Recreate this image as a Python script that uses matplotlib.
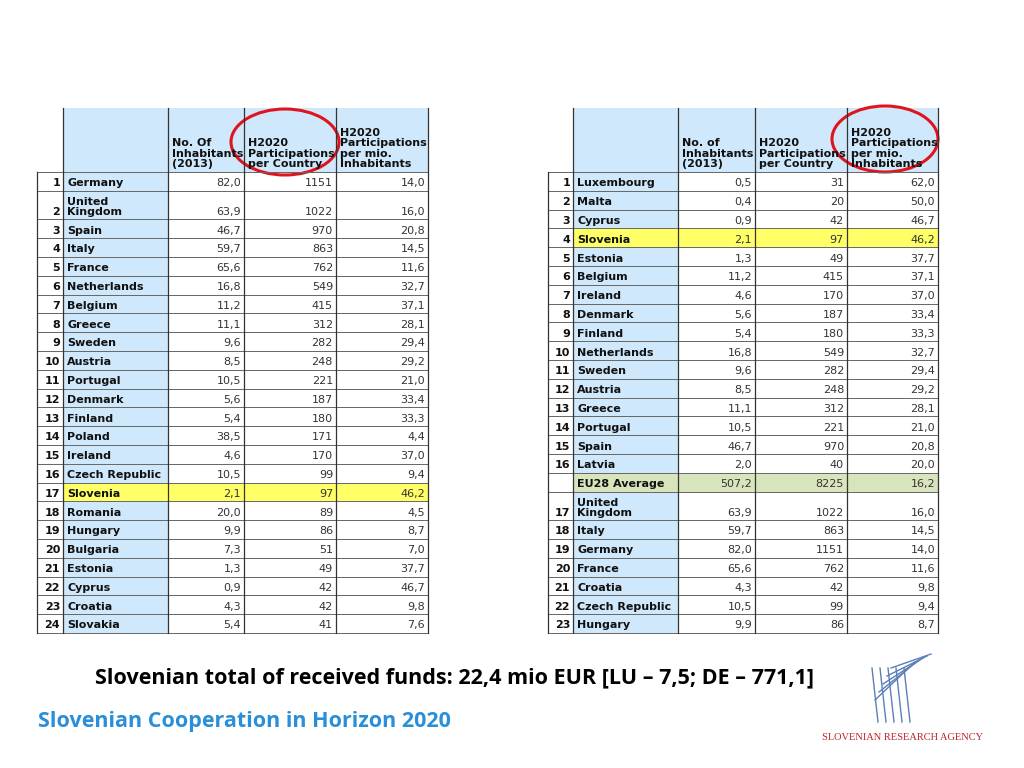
import matplotlib
matplotlib.use("Agg")
import matplotlib.pyplot as plt
from matplotlib.patches import Rectangle, Ellipse

# ---- data ----
left_ranks = [str(i) for i in range(1, 25)]
left_countries = ["Germany", "United\nKingdom", "Spain", "Italy", "France", "Netherlands",
                  "Belgium", "Greece", "Sweden", "Austria", "Portugal", "Denmark", "Finland",
                  "Poland", "Ireland", "Czech Republic", "Slovenia", "Romania", "Hungary",
                  "Bulgaria", "Estonia", "Cyprus", "Croatia", "Slovakia"]
left_inhabitants = ["82,0", "63,9", "46,7", "59,7", "65,6", "16,8", "11,2", "11,1", "9,6", "8,5",
                    "10,5", "5,6", "5,4", "38,5", "4,6", "10,5", "2,1", "20,0", "9,9", "7,3",
                    "1,3", "0,9", "4,3", "5,4"]
left_participations = ["1151", "1022", "970", "863", "762", "549", "415", "312", "282", "248",
                       "221", "187", "180", "171", "170", "99", "97", "89", "86", "51",
                       "49", "42", "42", "41"]
left_per_mio = ["14,0", "16,0", "20,8", "14,5", "11,6", "32,7", "37,1", "28,1", "29,4", "29,2",
                "21,0", "33,4", "33,3", "4,4", "37,0", "9,4", "46,2", "4,5", "8,7", "7,0",
                "37,7", "46,7", "9,8", "7,6"]

right_ranks = [str(i) for i in range(1, 17)] + [""] + [str(i) for i in range(17, 24)]
right_countries = ["Luxembourg", "Malta", "Cyprus", "Slovenia", "Estonia", "Belgium", "Ireland",
                   "Denmark", "Finland", "Netherlands", "Sweden", "Austria", "Greece",
                   "Portugal", "Spain", "Latvia", "EU28 Average", "United\nKingdom", "Italy",
                   "Germany", "France", "Croatia", "Czech Republic", "Hungary"]
right_inhabitants = ["0,5", "0,4", "0,9", "2,1", "1,3", "11,2", "4,6", "5,6", "5,4", "16,8",
                     "9,6", "8,5", "11,1", "10,5", "46,7", "2,0", "507,2", "63,9", "59,7",
                     "82,0", "65,6", "4,3", "10,5", "9,9"]
right_participations = ["31", "20", "42", "97", "49", "415", "170", "187", "180", "549", "282",
                        "248", "312", "221", "970", "40", "8225", "1022", "863", "1151", "762",
                        "42", "99", "86"]
right_per_mio = ["62,0", "50,0", "46,7", "46,2", "37,7", "37,1", "37,0", "33,4", "33,3", "32,7",
                 "29,4", "29,2", "28,1", "21,0", "20,8", "20,0", "16,2", "16,0", "14,5", "14,0",
                 "11,6", "9,8", "9,4", "8,7"]

left_headers = ["No. Of\nInhabitants\n(2013)", "H2020\nParticipations\nper Country",
                "H2020\nParticipations\nper mio.\nInhabitants"]
right_headers = ["No. of\nInhabitants\n(2013)", "H2020\nParticipations\nper Country",
                 "H2020\nParticipations\nper mio.\nInhabitants"]

BLUE = "#cfe8fb"
YELLOW = "#ffff66"
GREEN = "#d8e4bc"
FONT = "DejaVu Sans"

fig = plt.figure(figsize=(10.24, 7.68), dpi=100)
ax = fig.add_axes([0, 0, 1, 1])
ax.set_xlim(0, 1024)
ax.set_ylim(768, 0)
ax.axis("off")


def draw_table(x_edges, ranks, countries, inh, part, per, headers, highlight):
    top, head_bot = 108, 172
    # header
    ax.add_patch(Rectangle((x_edges[1], top), x_edges[5] - x_edges[1], head_bot - top,
                           facecolor=BLUE, edgecolor="none"))
    for j, h in enumerate(headers):
        ax.text(x_edges[j + 2] + 4, head_bot - 3, h, ha="left", va="bottom",
                fontsize=8, fontweight="bold", family=FONT, linespacing=1.05,
                color="#111111")
    y = head_bot
    for i in range(len(countries)):
        h = 28.5 if "\n" in countries[i] else 18.8
        color = highlight.get(i)
        ax.add_patch(Rectangle((x_edges[1], y), x_edges[2] - x_edges[1], h,
                               facecolor=color or BLUE, edgecolor="none"))
        if color:
            ax.add_patch(Rectangle((x_edges[2], y), x_edges[5] - x_edges[2], h,
                                   facecolor=color, edgecolor="none"))
        yb = y + h - 2.5
        ax.text(x_edges[1] - 3, yb, ranks[i], ha="right", va="bottom", fontsize=8,
                fontweight="bold", family=FONT, color="#111111")
        ax.text(x_edges[1] + 4, yb, countries[i], ha="left", va="bottom", fontsize=8,
                fontweight="bold", family=FONT, linespacing=1.0, color="#111111")
        for j, v in enumerate([inh[i], part[i], per[i]]):
            ax.text(x_edges[j + 3] - 3, yb, v, ha="right", va="bottom", fontsize=8,
                    family=FONT, color="#333333")
        ax.plot([x_edges[0], x_edges[5]], [y, y], color="#666666", lw=0.7)
        y += h
    ax.plot([x_edges[0], x_edges[5]], [y, y], color="#666666", lw=0.7)
    for k, xe in enumerate(x_edges):
        y0 = head_bot if k == 0 else top
        ax.plot([xe, xe], [y0, y], color="#333333", lw=0.9)


draw_table([37, 63, 168, 244, 336, 428], left_ranks, left_countries, left_inhabitants,
           left_participations, left_per_mio, left_headers, {16: YELLOW})
draw_table([548, 573, 678, 755, 847, 938], right_ranks, right_countries, right_inhabitants,
           right_participations, right_per_mio, right_headers, {3: YELLOW, 16: GREEN})

ax.add_patch(Ellipse((285, 142), 108, 66, fill=False, edgecolor="#e0141e", lw=2.2))
ax.add_patch(Ellipse((885, 139), 106, 66, fill=False, edgecolor="#e0141e", lw=2.2))

ax.text(95, 678, "Slovenian total of received funds: 22,4 mio EUR [LU \u2013 7,5; DE \u2013 771,1]",
        fontsize=15.5, fontweight="bold", family="Open Sans", va="center")
ax.text(38, 722, "Slovenian Cooperation in Horizon 2020", fontsize=15.5, fontweight="bold",
        family="Open Sans", color="#2a8fd8", va="center")

# logo
for k in range(5):
    ax.plot([875 + k * 4, 915 + k * 4], [700 - k * 8, 662 - k * 2], color="#5b7fb8", lw=1)
    ax.plot([872 + k * 8, 878 + k * 8], [668, 722], color="#5b7fb8", lw=1)
ax.text(903, 738, "SLOVENIAN RESEARCH AGENCY", fontsize=7.5, family="Liberation Serif",
        color="#c0202a", ha="center", va="center")

fig.savefig("out.png", dpi=100)
